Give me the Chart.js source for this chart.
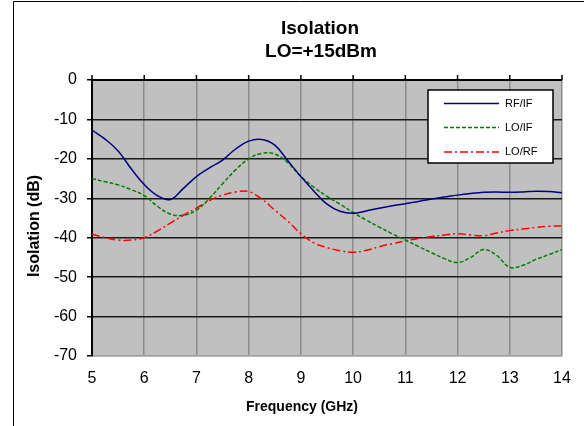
<!DOCTYPE html>
<html>
<head>
<meta charset="utf-8">
<script src="https://cdn.jsdelivr.net/npm/chart.js@4"></script>
<style>
  html, body { margin: 0; padding: 0; background: #fff; }
  #wrap { width: 584px; height: 426px; }
</style>
</head>
<body>
<div id="wrap"><canvas id="isoChart" width="584" height="426"></canvas></div>
<script>
// frequency points (GHz)
const freqs = [5, 5.25, 5.5, 5.75, 6, 6.25, 6.5, 6.75, 7, 7.25, 7.5, 7.75, 8, 8.25, 8.5, 8.75,
  9, 9.25, 9.5, 9.75, 10, 10.25, 10.5, 10.75, 11, 11.25, 11.5, 11.75, 12, 12.25, 12.5, 12.75,
  13, 13.25, 13.5, 13.75, 14];

// isolation in dB
const rfIf = [-12.7, -15.0, -18.0, -22.5, -26.5, -29.3, -30.3, -27.5, -24.5, -22.3, -20.3, -17.5,
  -15.5, -15.1, -16.5, -20.5, -24.5, -28.2, -31.5, -33.3, -33.8, -33.2, -32.5, -31.9, -31.4,
  -30.8, -30.2, -29.7, -29.2, -28.8, -28.5, -28.4, -28.5, -28.4, -28.2, -28.3, -28.6];
const loIf = [-25.0, -25.8, -26.6, -27.8, -29.3, -32.0, -34.0, -34.3, -33.0, -30.0, -26.3, -22.8,
  -20.0, -18.6, -18.8, -21.0, -24.5, -27.2, -29.5, -31.5, -33.6, -35.5, -37.3, -39.0, -40.6,
  -42.2, -43.8, -45.3, -46.3, -45.0, -43.0, -44.5, -47.5, -47.0, -45.5, -44.3, -43.0];
const loRf = [-39.1, -40.0, -40.6, -40.6, -40.0, -38.3, -36.3, -34.3, -32.5, -30.6, -29.2, -28.4,
  -28.3, -30.2, -33.0, -35.8, -39.0, -41.3, -42.5, -43.3, -43.7, -43.2, -42.3, -41.5, -40.8,
  -40.2, -39.7, -39.3, -39.0, -39.3, -39.5, -38.8, -38.2, -37.8, -37.4, -37.1, -37.0];

const seriesNames = ["RF/IF", "LO/IF", "LO/RF"];
const titleLines = ["Isolation", "LO=+15dBm"];
const xTitle = "Frequency (GHz)";
const yTitle = "Isolation (dB)";

function toPoints(values) {
  return freqs.map((f, i) => ({ x: f, y: values[i] }));
}

const FONT = "'Liberation Sans', Arial, sans-serif";

// frame, gray plot area, titles, top tick marks and the legend box
const decorations = {
  id: 'decorations',
  beforeDraw(chart) {
    const ctx = chart.ctx;
    const a = chart.chartArea;
    ctx.save();
    ctx.fillStyle = '#fff';
    ctx.fillRect(0, 0, chart.width, chart.height);
    ctx.strokeStyle = '#000';
    ctx.lineWidth = 1;
    ctx.beginPath();
    ctx.moveTo(13.5, 430);
    ctx.lineTo(13.5, 1.5);
    ctx.lineTo(590, 1.5);
    ctx.stroke();
    ctx.fillStyle = '#c0c0c0';
    ctx.fillRect(a.left, a.top, a.right - a.left, a.bottom - a.top);
    ctx.restore();
  },
  afterDraw(chart) {
    const ctx = chart.ctx;
    const area = chart.chartArea;
    const xs = chart.scales.x;
    ctx.save();

    // titles
    ctx.fillStyle = '#000';
    ctx.textAlign = 'center';
    ctx.textBaseline = 'middle';
    ctx.font = 'bold 19px ' + FONT;
    ctx.fillText(titleLines[0], 320, 29);
    ctx.fillText(titleLines[1], 321, 52);
    ctx.font = 'bold 14px ' + FONT;
    ctx.fillText(xTitle, 302, 407);
    ctx.font = 'bold 16px ' + FONT;
    ctx.save();
    ctx.translate(35, 226);
    ctx.rotate(-Math.PI / 2);
    ctx.fillText(yTitle, 0, 0);
    ctx.restore();

    // small tick marks above the top axis
    ctx.strokeStyle = '#000';
    ctx.lineWidth = 1.5;
    freqs.filter(f => Number.isInteger(f)).forEach(f => {
      const px = xs.getPixelForValue(f);
      ctx.beginPath();
      ctx.moveTo(px, area.top - 5);
      ctx.lineTo(px, area.top);
      ctx.stroke();
    });
    // top axis line
    ctx.lineWidth = 2;
    ctx.beginPath();
    ctx.moveTo(area.left, area.top);
    ctx.lineTo(area.right, area.top);
    ctx.stroke();

    // legend
    const box = { x: 428, y: 90, w: 125, h: 73 };
    ctx.fillStyle = '#fff';
    ctx.fillRect(box.x, box.y, box.w, box.h);
    ctx.strokeStyle = '#000';
    ctx.lineWidth = 1.5;
    ctx.strokeRect(box.x, box.y, box.w, box.h);
    const rows = [103.5, 127.5, 152];
    chart.data.datasets.forEach((ds, i) => {
      ctx.strokeStyle = ds.borderColor;
      ctx.lineWidth = ds.borderWidth;
      ctx.setLineDash(ds.borderDash || []);
      ctx.beginPath();
      ctx.moveTo(444, rows[i]);
      ctx.lineTo(499, rows[i]);
      ctx.stroke();
      ctx.setLineDash([]);
      ctx.fillStyle = '#000';
      ctx.textAlign = 'left';
      ctx.font = '11px ' + FONT;
      ctx.fillText(ds.label, 505, rows[i]);
    });
    ctx.restore();
  }
};

new Chart(document.getElementById('isoChart').getContext('2d'), {
  type: 'line',
  data: {
    datasets: [
      {
        label: seriesNames[0],
        data: toPoints(rfIf),
        borderColor: '#000080',
        borderWidth: 1.5,
        pointRadius: 0,
        tension: 0.4,
        fill: false
      },
      {
        label: seriesNames[1],
        data: toPoints(loIf),
        borderColor: '#008000',
        borderWidth: 1.5,
        borderDash: [4, 2],
        pointRadius: 0,
        tension: 0.4,
        fill: false
      },
      {
        label: seriesNames[2],
        data: toPoints(loRf),
        borderColor: '#ff0000',
        borderWidth: 1.5,
        borderDash: [8, 3, 2, 3],
        pointRadius: 0,
        tension: 0.4,
        fill: false
      }
    ]
  },
  options: {
    responsive: false,
    animation: false,
    layout: { padding: { left: 0, right: 22, top: 80, bottom: 0 } },
    plugins: {
      legend: { display: false },
      title: { display: false },
      tooltip: { enabled: false }
    },
    scales: {
      x: {
        type: 'linear',
        min: 5,
        max: 14,
        ticks: {
          stepSize: 1,
          color: '#000',
          font: { size: 16, family: FONT },
          padding: 13
        },
        grid: {
          color: '#8c8c8c',
          lineWidth: 1.5,
          drawTicks: false
        },
        border: { display: true, color: '#a0a0a0', width: 1.5 },
        afterFit(scale) { scale.height = 70; }
      },
      y: {
        min: -70,
        max: 0,
        ticks: {
          stepSize: 10,
          color: '#000',
          font: { size: 16, family: FONT },
          padding: 10
        },
        grid: {
          color: ctx => (ctx.tick && ctx.tick.value === -70) ? '#a0a0a0' : '#1a1a1a',
          lineWidth: 1.5,
          tickColor: '#000',
          tickLength: 5
        },
        border: { display: true, color: '#000', width: 2 },
        afterFit(scale) { scale.width = 92; }
      }
    }
  },
  plugins: [decorations]
});
</script>
</body>
</html>
